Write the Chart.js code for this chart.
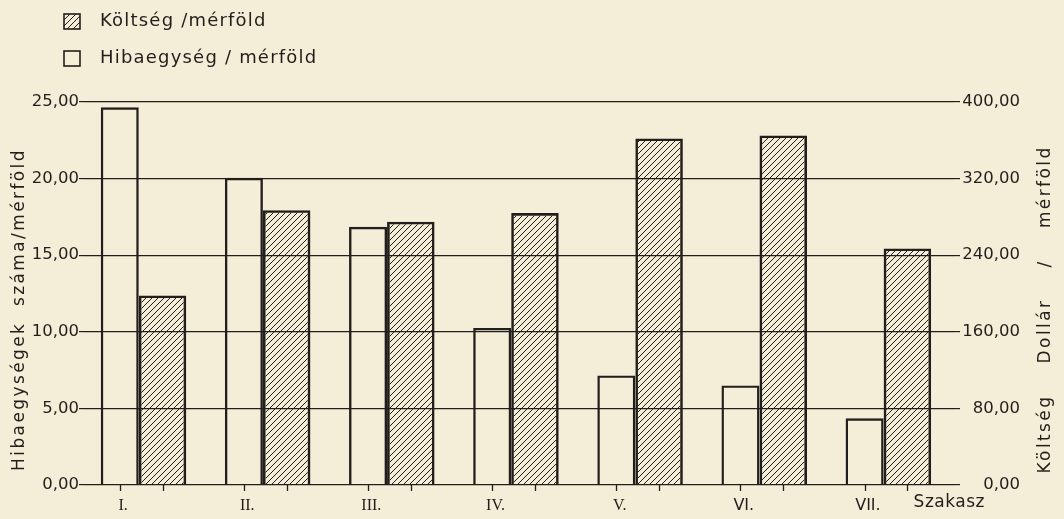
<!DOCTYPE html>
<html lang="hu">
<head>
<meta charset="utf-8">
<title>Költség és hibaegység szakaszonként</title>
<script src="https://cdn.jsdelivr.net/npm/chart.js@4.4.1/dist/chart.umd.min.js"></script>
<style>
  html, body { margin: 0; padding: 0; background: #f4eed9; }
  canvas { display: block; }
</style>
</head>
<body>
<canvas id="chart" width="1064" height="519"></canvas>
<script>
// --- data ---
const categories = ['I.', 'II.', 'III.', 'IV.', 'V.', 'VI.', 'VII.'];
const faultsPerMile = [24.65, 20.05, 16.85, 10.25, 7.15, 6.5, 4.35];   // left axis
const costPerMile = [198, 287, 275, 284, 362, 365, 247];               // right axis, dollar
const leftTicks = [0, 5, 10, 15, 20, 25];
const rightTicks = [0, 80, 160, 240, 320, 400];

const INK = '#221e1b';
const FONT = "'DejaVu Sans', sans-serif";
const SERIF = "'Liberation Serif', serif";

const canvas = document.getElementById('chart');
const ctx2d = canvas.getContext('2d');

// diagonal "/" hatching, transparent between the strokes so grid lines show through
function makeHatch(ctx) {
    const tile = document.createElement('canvas');
    tile.width = tile.height = 6;
    const t = tile.getContext('2d');
    t.strokeStyle = INK;
    t.lineWidth = 1;
    t.beginPath();
    t.moveTo(0, 6); t.lineTo(6, 0);
    t.moveTo(-1, 1); t.lineTo(1, -1);
    t.moveTo(5, 7); t.lineTo(7, 5);
    t.stroke();
    return ctx.createPattern(tile, 'repeat');
}
const hatch = makeHatch(ctx2d);

const fmt = v => Number(v).toFixed(2).replace('.', ',');

// --- legend, axis titles, small ticks under every bar ---
const decorations = {
    id: 'decorations',
    afterDatasetsDraw(chart) {
        const { ctx, chartArea: area } = chart;
        ctx.save();
        ctx.strokeStyle = INK;
        ctx.lineWidth = 1.3;
        chart.data.datasets.forEach((ds, i) => {
            chart.getDatasetMeta(i).data.forEach(bar => {
                ctx.beginPath();
                ctx.moveTo(Math.round(bar.x) + 0.5, area.bottom);
                ctx.lineTo(Math.round(bar.x) + 0.5, area.bottom + 6);
                ctx.stroke();
            });
        });
        ctx.restore();
    },
    afterDraw(chart) {
        const { ctx, chartArea: area } = chart;
        ctx.save();
        ctx.fillStyle = INK;
        ctx.strokeStyle = INK;
        ctx.textBaseline = 'middle';

        // legend block, top left
        const legendItems = [
            { text: 'Költség /mérföld', fill: hatch, y: 21 },
            { text: 'Hibaegység / mérföld', fill: null, y: 58 }
        ];
        ctx.font = '18px ' + FONT;
        ctx.letterSpacing = '1.2px';
        legendItems.forEach(item => {
            if (item.fill) {
                ctx.fillStyle = item.fill;
                ctx.fillRect(64, item.y - 7, 16, 15);
            }
            ctx.lineWidth = 1.6;
            ctx.strokeRect(64, item.y - 7, 16, 15);
            ctx.fillStyle = INK;
            ctx.textAlign = 'left';
            ctx.fillText(item.text, 100, item.y);
        });

        // axis titles, both read bottom to top
        const midY = (area.top + area.bottom) / 2 + 16;
        ctx.font = '17px ' + FONT;
        ctx.textAlign = 'center';
        ctx.letterSpacing = '2.4px';
        ctx.save();
        ctx.translate(20, midY);
        ctx.rotate(-Math.PI / 2);
        ctx.fillText('Hibaegységek  száma/mérföld', 0, 0);
        ctx.restore();

        ctx.save();
        ctx.translate(1046, midY);
        ctx.rotate(-Math.PI / 2);
        ctx.fillText('Költség    Dollár    /    mérföld', 0, 0);
        ctx.restore();

        // x axis name after the last group
        ctx.letterSpacing = '0.5px';
        ctx.font = '17px ' + FONT;
        ctx.textAlign = 'right';
        ctx.fillText('Szakasz', area.right + 31, area.bottom + 18);
        ctx.restore();
    }
};

new Chart(canvas, {
    type: 'bar',
    data: {
        labels: categories,
        datasets: [
            {
                label: 'Hibaegység / mérföld',
                data: faultsPerMile,
                yAxisID: 'y',
                backgroundColor: 'rgba(0,0,0,0)',
                borderColor: INK,
                borderWidth: 2.4,
                categoryPercentage: 0.88,
                barPercentage: 0.696
            },
            {
                label: 'Költség / mérföld',
                data: costPerMile,
                yAxisID: 'y1',
                backgroundColor: hatch,
                borderColor: INK,
                borderWidth: 2.6,
                categoryPercentage: 0.498,
                barPercentage: 1.537
            }
        ]
    },
    options: {
        responsive: false,
        animation: false,
        events: [],
        layout: { padding: { left: 32, right: 44, top: 102, bottom: 0 } },
        plugins: {
            legend: { display: false },
            tooltip: { enabled: false }
        },
        scales: {
            x: {
                grid: { display: false },
                border: { display: false },
                ticks: {
                    color: INK,
                    padding: 3,
                    labelOffset: -24,
                    autoSkip: false,
                    maxRotation: 0,
                    font: c => ({ family: c.index < 5 ? SERIF : FONT, size: 16 })
                },
                afterFit: s => { s.height = 34; }
            },
            y: {
                position: 'left',
                min: leftTicks[0],
                max: leftTicks[leftTicks.length - 1],
                border: { display: false },
                grid: { color: INK, lineWidth: 1.2, tickLength: 6 },
                ticks: {
                    stepSize: leftTicks[1] - leftTicks[0],
                    color: INK,
                    padding: 0,
                    font: { family: FONT, size: 16.5 },
                    callback: fmt
                },
                afterFit: s => { s.width = 53; }
            },
            y1: {
                position: 'right',
                min: rightTicks[0],
                max: rightTicks[rightTicks.length - 1],
                border: { display: false },
                grid: { drawOnChartArea: false, color: INK, lineWidth: 1.2, tickLength: 6 },
                ticks: {
                    stepSize: rightTicks[1] - rightTicks[0],
                    color: INK,
                    padding: 2,
                    crossAlign: 'far',
                    font: { family: FONT, size: 16.5 },
                    callback: fmt
                },
                afterFit: s => { s.width = 66; }
            }
        }
    },
    plugins: [decorations]
});
</script>
</body>
</html>
